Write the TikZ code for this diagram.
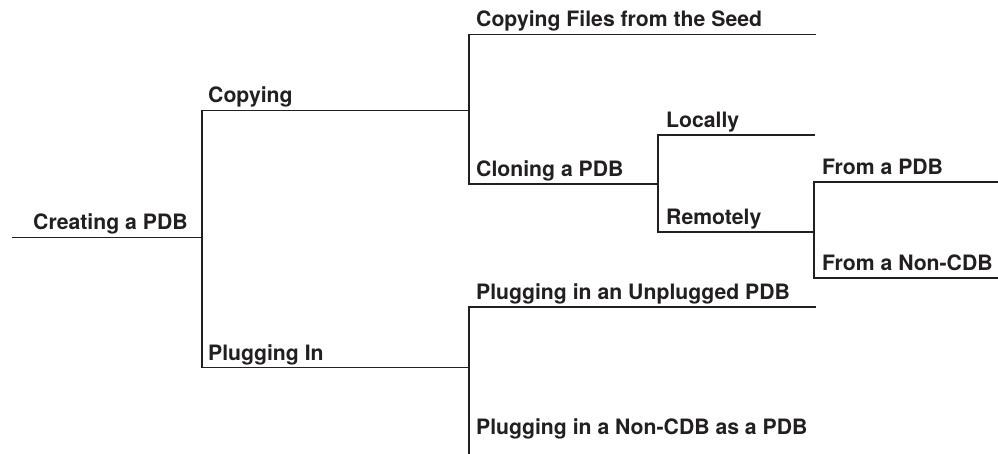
\documentclass[tikz,border=0pt]{standalone}
\usepackage{fontspec}
\setmainfont{TeX Gyre Heros}
\definecolor{ink}{HTML}{231F20}
\begin{document}
\begin{tikzpicture}[x=1pt,y=-1pt,
  lbl/.style={anchor=base west, inner sep=0pt, font=\fontsize{21.2}{24}\selectfont\bfseries, text=ink},
  ln/.style={draw=ink, line width=1.1pt, line join=miter, line cap=rect}]
\useasboundingbox (0,0) rectangle (998,454);
\clip (0,0) rectangle (998,454);
% line end points
\coordinate (rootS) at (13,237.5);   \coordinate (rootE) at (202,237.5);
\coordinate (copyS) at (202,110.7);  \coordinate (copyE) at (469,110.7);
\coordinate (plugS) at (202,367.5);  \coordinate (plugE) at (469,367.5);
\coordinate (seedS) at (469,34.5);   \coordinate (seedE) at (815,34.5);
\coordinate (cloneS) at (469,184);   \coordinate (cloneE) at (658,184);
\coordinate (locS) at (658,135);     \coordinate (locE) at (814,135);
\coordinate (remS) at (658,232);     \coordinate (remE) at (814,232);
\coordinate (fpdbS) at (814,182);    \coordinate (fpdbE) at (997,182);
\coordinate (fnonS) at (814,278);    \coordinate (fnonE) at (997,278);
\coordinate (unplS) at (469,307);    \coordinate (unplE) at (815,307);
\coordinate (ncdbS) at (469,456);
% labels
\node[lbl] (root) at (33,230) {Creating a PDB};
\node[lbl] (copy) at (208,103) {Copying};
\node[lbl] (plug) at (208,360) {Plugging In};
\node[lbl] (seed) at (476,27) {Copying Files from the Seed};
\node[lbl] (clone) at (476,176.5) {Cloning a PDB};
\node[lbl] (loc) at (666,127.5) {Locally};
\node[lbl] (rem) at (666,224.5) {Remotely};
\node[lbl] (fpdb) at (822,174.5) {From a PDB};
\node[lbl] (fnon) at (822,270.5) {From a Non-CDB};
\node[lbl] (unpl) at (476,299.5) {Plugging in an Unplugged PDB};
\node[lbl] (ncdb) at (476,434) {Plugging in a Non-CDB as a PDB};
% tree lines
\draw[ln] (rootS) -- (rootE);
\draw[ln] (copyE) -- (copyS) -- (plugS) -- (plugE);
\draw[ln] (seedE) -- (seedS) -- (cloneS) -- (cloneE);
\draw[ln] (locE) -- (locS) -- (remS) -- (remE);
\draw[ln] (fpdbE) -- (fpdbS) -- (fnonS) -- (fnonE);
\draw[ln] (unplE) -- (unplS) -- (ncdbS);
\end{tikzpicture}
\end{document}
